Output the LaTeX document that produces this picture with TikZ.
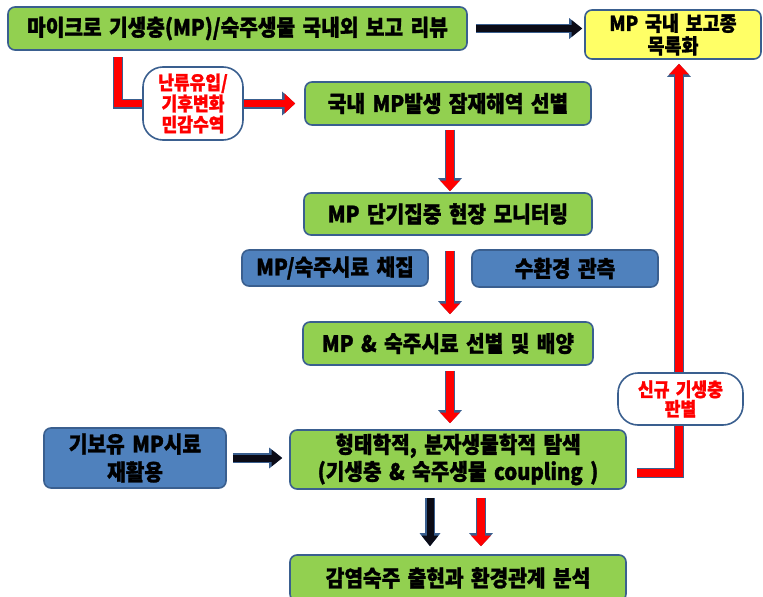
\documentclass[tikz,border=0pt]{standalone}
\usepackage{fontspec}
\newfontfamily\kr{Noto Sans CJK KR}[FakeStretch=0.9, WordSpace=1.6, BoldFeatures={FakeBold=1.3}]
\usetikzlibrary{arrows.meta,calc}
\definecolor{bordercol}{HTML}{3A5F8F}
\definecolor{boxgreen}{HTML}{92D050}
\definecolor{boxblue}{HTML}{4F81BD}
\definecolor{boxyellow}{HTML}{FFFF66}
\definecolor{arrred}{HTML}{FF0000}
\definecolor{arrblack}{HTML}{0B0B16}
\tikzset{
  basebox/.style={draw=bordercol, line width=1.6pt, rounded corners=7pt, align=center, inner sep=0pt,
    font=\kr\bfseries\fontsize{22.5}{27}\selectfont},
  gbox/.style={basebox, fill=boxgreen},
  bbox/.style={basebox, fill=boxblue},
  ybox/.style={basebox, fill=boxyellow, font=\kr\bfseries\fontsize{20.5}{22.5}\selectfont},
  wbox/.style={basebox, fill=white, rounded corners=20pt, text=arrred,
    font=\kr\bfseries\fontsize{19}{21}\selectfont},
  redarr/.style={draw=arrred, line width=7.5pt, line join=miter,
    -{Triangle[length=10.5pt,width=19pt]},
    preaction={draw=bordercol, line width=10pt, line join=miter, -{Triangle[length=13pt,width=23pt]}}},
  blackarr/.style={draw=arrblack, line width=7pt, line join=miter,
    -{Triangle[length=10.5pt,width=16pt]},
    preaction={draw=bordercol, line width=9.5pt, -{Triangle[length=13pt,width=20pt]}}}
}
\begin{document}
\begin{tikzpicture}[x=1pt,y=-1pt]
\clip (0,0) rectangle (763,597);
\fill[white] (0,0) rectangle (763,597);

\node[gbox, minimum width=459pt, minimum height=43pt] (A) at (237.5,28.5) {마이크로 기생충(MP)/숙주생물 국내외 보고 리뷰};
\node[ybox, minimum width=176pt, minimum height=49pt] (B) at (673,34.5) {MP 국내 보고종\\목록화};
\node[gbox, minimum width=286pt, minimum height=43pt] (D) at (448,103.5) {국내 MP발생 잠재해역 선별};
\node[gbox, minimum width=288pt, minimum height=42pt] (E) at (448,214) {MP 단기집중 현장 모니터링};
\node[bbox, minimum width=186pt, minimum height=36pt] (F) at (335,268) {MP/숙주시료 채집};
\node[bbox, minimum width=186pt, minimum height=37pt] (G) at (565,268.5) {수환경 관측};
\node[gbox, minimum width=290pt, minimum height=43pt] (H) at (448,343.5) {MP \& 숙주시료 선별 및 배양};
\node[bbox, minimum width=182pt, minimum height=60pt, font=\kr\bfseries\fontsize{22.5}{28}\selectfont] (I) at (135,458) {기보유 MP시료\\재활용};
\node[gbox, minimum width=336pt, minimum height=59pt] (J) at (458,459.5) {형태학적, 분자생물학적 탐색\\(기생충 \& 숙주생물 coupling )};
\node[gbox, minimum width=336pt, minimum height=46pt] (K) at (458,578) {감염숙주 출현과 환경관계 분석};

\coordinate (a1) at (118,57);
\draw[blackarr] ($(A.east)+(8,0)$) -- ($(A.east -| B.west)+(-2,0)$);
\draw[redarr] (a1) |- ($(D.west)+(-9,0)$);
\draw[redarr] ($(D.south)+(2,4)$) -- ($(E.north)+(2,-1)$);
\draw[redarr] ($(E.south)+(2,15)$) -- ($(H.north)+(2,-7)$);
\draw[redarr] ($(H.south)+(2,5)$) -- ($(H.south |- J.north)+(2,-6)$);
\draw[blackarr] ($(I.east)+(6,0)$) -- ($(I.east -| J.west)+(-7,0)$);
\draw[blackarr] ($(J.south)+(-28,8)$) -- ($(K.north)+(-28,-8)$);
\draw[redarr] ($(J.south)+(23,8)$) -- ($(K.north)+(23,-8)$);
\draw[redarr] ($(J.east)+(10,13.5)$) -| ($(B.south)+(6,4)$);

\node[wbox, minimum width=100pt, minimum height=73pt] (C) at (193,103.5) {난류유입/\\기후변화\\민감수역};
\node[wbox, minimum width=125pt, minimum height=52pt, font=\kr\bfseries\fontsize{19}{19.5}\selectfont] (L) at (680.5,399) {신규 기생충\\판별};
\end{tikzpicture}
\end{document}
